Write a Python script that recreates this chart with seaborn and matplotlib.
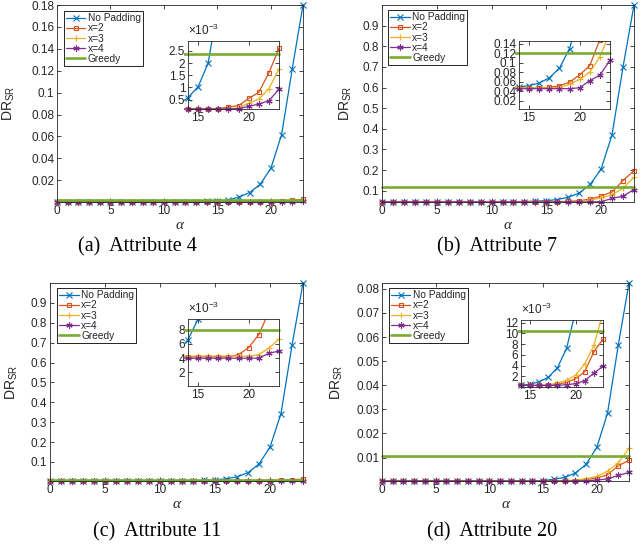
import matplotlib
matplotlib.use("Agg")
import matplotlib.pyplot as plt
import seaborn as sns
from matplotlib.patches import Rectangle
from matplotlib.ticker import FuncFormatter

# ---------------- data ----------------
alpha = list(range(24))
series_names = ["No Padding", "x=2", "x=3", "x=4", "Greedy"]

np_a = [0.00012, 0.00012, 0.00012, 0.00012, 0.00012, 0.00012, 0.00012, 0.00012,
        0.00012, 0.00012, 0.00012, 0.00013, 0.00016, 0.00028, 0.00059, 0.00103,
        0.0020, 0.0045, 0.0087, 0.0163, 0.031, 0.0616, 0.122, 0.18]
x2_a = [0.00012, 0.00012, 0.00012, 0.00012, 0.00012, 0.00012, 0.00012, 0.00012,
        0.00012, 0.00012, 0.00012, 0.00012, 0.00012, 0.00012, 0.00012, 0.00012,
        0.00012, 0.00013, 0.0002, 0.00026, 0.00055, 0.0008, 0.0016, 0.0026]
x3_a = [0.00012, 0.00012, 0.00012, 0.00012, 0.00012, 0.00012, 0.00012, 0.00012,
        0.00012, 0.00012, 0.00012, 0.00012, 0.00012, 0.00012, 0.00012, 0.00012,
        0.00012, 0.00012, 0.00012, 0.00017, 0.00036, 0.00052, 0.00095, 0.00176]
x4_a = [0.00012, 0.00012, 0.00012, 0.00012, 0.00012, 0.00012, 0.00012, 0.00012,
        0.00012, 0.00012, 0.00012, 0.00012, 0.00012, 0.00012, 0.00012, 0.00012,
        0.00012, 0.00012, 0.00012, 0.00014, 0.00023, 0.00032, 0.00046, 0.00093]
greedy_a = 0.00236

np_b = [0.047, 0.047, 0.047, 0.047, 0.047, 0.047, 0.047, 0.047, 0.047, 0.047,
        0.047, 0.047, 0.047, 0.047, 0.049, 0.0515, 0.057, 0.068, 0.0885, 0.13,
        0.205, 0.372, 0.70, 1.0]
x2_b = [0.047, 0.047, 0.047, 0.047, 0.047, 0.047, 0.047, 0.047, 0.047, 0.047,
        0.047, 0.047, 0.047, 0.047, 0.047, 0.047, 0.047, 0.048, 0.051, 0.059,
        0.074, 0.094, 0.149, 0.197]
x3_b = [0.047, 0.047, 0.047, 0.047, 0.047, 0.047, 0.047, 0.047, 0.047, 0.047,
        0.047, 0.047, 0.047, 0.047, 0.047, 0.047, 0.047, 0.047, 0.047, 0.0545,
        0.0646, 0.08, 0.112, 0.165]
x4_b = [0.045, 0.045, 0.045, 0.045, 0.045, 0.045, 0.045, 0.045, 0.045, 0.045,
        0.045, 0.045, 0.045, 0.045, 0.045, 0.045, 0.045, 0.045, 0.045, 0.045,
        0.047, 0.062, 0.074, 0.105]
greedy_b = 0.12

np_c = [0.0042, 0.0042, 0.0042, 0.0042, 0.0042, 0.0042, 0.0042, 0.0042, 0.0042,
        0.0042, 0.0042, 0.0042, 0.0043, 0.005, 0.0066, 0.0095, 0.015, 0.025,
        0.046, 0.09, 0.174, 0.343, 0.686, 1.0]
x2_c = [0.0042, 0.0042, 0.0042, 0.0042, 0.0042, 0.0042, 0.0042, 0.0042, 0.0042,
        0.0042, 0.0042, 0.0042, 0.0042, 0.0042, 0.0042, 0.0042, 0.0042, 0.0042,
        0.0042, 0.0045, 0.0055, 0.0073, 0.0105, 0.0135]
x3_c = [0.0043, 0.0043, 0.0043, 0.0043, 0.0043, 0.0043, 0.0043, 0.0043, 0.0043,
        0.0043, 0.0043, 0.0043, 0.0043, 0.0043, 0.0043, 0.0043, 0.0043, 0.0043,
        0.0043, 0.0043, 0.0043, 0.0045, 0.0054, 0.0067]
x4_c = [0.0040, 0.0040, 0.0040, 0.0040, 0.0040, 0.0040, 0.0040, 0.0040, 0.0040,
        0.0040, 0.0040, 0.0040, 0.0040, 0.0040, 0.0040, 0.0040, 0.0040, 0.0040,
        0.0040, 0.0040, 0.0040, 0.0040, 0.0047, 0.0050]
greedy_c = 0.0079

np_d = [0.0003, 0.0003, 0.0003, 0.0003, 0.0003, 0.0003, 0.0003, 0.0003, 0.0003,
        0.0003, 0.0003, 0.0003, 0.0003, 0.0003, 0.00037, 0.0005, 0.001, 0.0018,
        0.0036, 0.0072, 0.0142, 0.0284, 0.0566, 0.0824]
x2_d = [0.0003, 0.0003, 0.0003, 0.0003, 0.0003, 0.0003, 0.0003, 0.0003, 0.0003,
        0.0003, 0.0003, 0.0003, 0.0003, 0.0003, 0.0003, 0.0003, 0.0003, 0.0003,
        0.0005, 0.00087, 0.00155, 0.00286, 0.0066, 0.0089]
x3_d = [0.0003, 0.0003, 0.0003, 0.0003, 0.0003, 0.0003, 0.0003, 0.0003, 0.0003,
        0.0003, 0.0003, 0.0003, 0.0003, 0.0003, 0.0003, 0.0003, 0.0003, 0.00045,
        0.0007, 0.00124, 0.0022, 0.00435, 0.00776, 0.0139]
x4_d = [0.0003, 0.0003, 0.0003, 0.0003, 0.0003, 0.0003, 0.0003, 0.0003, 0.0003,
        0.0003, 0.0003, 0.0003, 0.0003, 0.0003, 0.0003, 0.0003, 0.0003, 0.0003,
        0.0003, 0.00043, 0.00062, 0.00118, 0.0026, 0.00385]
greedy_d = 0.0105

captions = ["(a)  Attribute 4", "(b)  Attribute 7", "(c)  Attribute 11", "(d)  Attribute 20"]

main_yticks = [
    [0.02, 0.04, 0.06, 0.08, 0.1, 0.12, 0.14, 0.16, 0.18],
    [0.1, 0.2, 0.3, 0.4, 0.5, 0.6, 0.7, 0.8, 0.9],
    [0.1, 0.2, 0.3, 0.4, 0.5, 0.6, 0.7, 0.8, 0.9],
    [0.01, 0.02, 0.03, 0.04, 0.05, 0.06, 0.07, 0.08],
]
inset_yticks = [
    [0.0005, 0.001, 0.0015, 0.002, 0.0025],
    [0.02, 0.04, 0.06, 0.08, 0.1, 0.12, 0.14],
    [0.002, 0.004, 0.006, 0.008],
    [0.002, 0.004, 0.006, 0.008, 0.010, 0.012],
]
main_xticks = [0, 5, 10, 15, 20]
inset_xticks = [15, 20]

# ---------------- layout / style ----------------
main_ylims = [(0.00012, 0.18), (0.045, 1.0), (0.004, 1.0), (0.0003, 0.0824)]
inset_ylims = [(0.00012, 0.0029), (0.002, 0.146), (0.0001, 0.0095), (0.0, 0.0125)]
inset_scaled = [True, False, True, True]

main_rects = [
    (57 / 644, 1 - 202 / 548, 246 / 644, 197 / 548),
    (382 / 644, 1 - 202 / 548, 252 / 644, 197 / 548),
    (50 / 644, 1 - 481 / 548, 253 / 644, 198 / 548),
    (382 / 644, 1 - 481 / 548, 247 / 644, 198 / 548),
]
inset_rects = [
    (188 / 644, 1 - 109 / 548, 91 / 644, 68 / 548),
    (519 / 644, 1 - 109 / 548, 91 / 644, 68 / 548),
    (188 / 644, 1 - 386 / 548, 91 / 644, 67 / 548),
    (521 / 644, 1 - 387 / 548, 82 / 644, 67 / 548),
]
ylabel_x = [-0.163, -0.111, -0.119, -0.15]
legend_anchor = [(0.028, 0.97), (0.024, 0.975), (0.028, 0.975), (0.028, 0.975)]
caption_pos = [(0.214, 0.549), (0.772, 0.549), (0.244, 0.029), (0.764, 0.029)]

sns.set_style("white")
plt.rcParams["font.family"] = ["Liberation Sans", "DejaVu Sans"]
plt.rcParams["mathtext.fontset"] = "custom"
plt.rcParams["mathtext.rm"] = "Liberation Sans"
plt.rcParams["mathtext.it"] = "Liberation Sans:italic"
plt.rcParams["mathtext.default"] = "regular"

colors = ["#0072BD", "#D95319", "#EDB120", "#7E2F8E", "#77AC30"]
markers = ["x", "s", "+", (6, 2, 0), None]
mfcs = [None, "none", None, None, None]
msizes = [3.8, 3.2, 4.5, 4.5, 0]
AX_COL = "#262626"

panels = [
    (np_a, x2_a, x3_a, x4_a, greedy_a),
    (np_b, x2_b, x3_b, x4_b, greedy_b),
    (np_c, x2_c, x3_c, x4_c, greedy_c),
    (np_d, x2_d, x3_d, x4_d, greedy_d),
]

fig = plt.figure(figsize=(6.44, 5.48), dpi=100)


def style_axes(ax):
    for sp in ax.spines.values():
        sp.set_visible(True)
        sp.set_linewidth(0.6)
        sp.set_color(AX_COL)
    ax.tick_params(direction="in", top=True, right=True, length=3, width=0.6,
                   labelsize=8.5, colors=AX_COL, pad=2, bottom=True, left=True)


def draw(ax, data, main):
    ser = list(data[:4]) + [[data[4]] * len(alpha)]
    for i, vals in enumerate(ser):
        kw = dict(color=colors[i], linewidth=0.9 if i < 4 else 1.9)
        if markers[i] is not None:
            kw.update(marker=markers[i], markersize=msizes[i],
                      markeredgecolor=colors[i], markeredgewidth=0.8)
            if mfcs[i] is not None:
                kw["markerfacecolor"] = mfcs[i]
        if main:
            kw["label"] = series_names[i]
        sns.lineplot(x=alpha, y=vals, ax=ax, **kw)


for k in range(4):
    data = panels[k]
    ax = fig.add_axes(main_rects[k])
    draw(ax, data, True)
    ax.set_xlim(0, 23)
    ax.set_ylim(*main_ylims[k])
    ax.set_xticks(main_xticks)
    ax.set_yticks(main_yticks[k])
    ax.yaxis.set_major_formatter(FuncFormatter(lambda v, p: f"{v:g}"))
    style_axes(ax)
    for ln in ax.get_lines():
        ln.set_clip_on(False)
    ax.set_ylabel(r"DR$_{SR}$", fontsize=10, color=AX_COL)
    ax.yaxis.set_label_coords(ylabel_x[k], 0.5)
    ax.set_xlabel("α", fontsize=11, family="Liberation Serif", fontstyle="italic",
                  color=AX_COL)
    ax.xaxis.set_label_coords(0.5, -0.085)
    leg = ax.legend(loc="upper left", bbox_to_anchor=legend_anchor[k],
                    borderaxespad=0, fontsize=7.3, frameon=True, fancybox=False,
                    framealpha=1, edgecolor="black", labelspacing=0.02,
                    borderpad=0.22, handlelength=1.9, handletextpad=0.25)
    leg.get_frame().set_linewidth(0.6)

    # inset
    axi = fig.add_axes(inset_rects[k])
    axi.set_facecolor("white")
    draw(axi, data, False)
    axi.set_xlim(14, 23)
    axi.set_ylim(*inset_ylims[k])
    axi.set_xticks(inset_xticks)
    axi.set_yticks(inset_yticks[k])
    if inset_scaled[k]:
        axi.yaxis.set_major_formatter(FuncFormatter(lambda v, p: f"{v * 1e3:g}"))
        axi.text(0.0, 1.04, r"$\times$10$^{-3}$", transform=axi.transAxes,
                 fontsize=8.5, color=AX_COL, ha="left", va="bottom")
    else:
        axi.yaxis.set_major_formatter(FuncFormatter(lambda v, p: f"{v:g}"))
    style_axes(axi)
    axi.set_xlabel("")
    axi.set_ylabel("")
    clip = Rectangle((-0.04, -0.12), 1.08, 1.12, transform=axi.transAxes,
                     facecolor="none", edgecolor="none")
    for ln in axi.get_lines():
        ln.set_clip_path(clip)

    fig.text(caption_pos[k][0], caption_pos[k][1], captions[k], ha="center",
             va="center", family="Liberation Serif", fontsize=14.5, color="black")

fig.savefig("out.png", dpi=100)
